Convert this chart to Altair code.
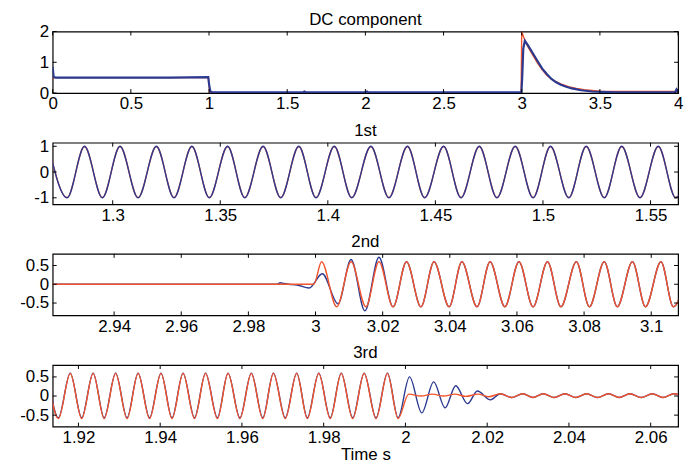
import altair as alt
import pandas as pd

# ---------------- data ----------------
# Panel 1: DC component
DC_RED_T = [0.0, 0.004, 0.996, 1.0, 1.004, 2.996, 3.0, 3.012, 3.035, 3.06, 3.08, 3.1, 3.13, 3.16, 3.2, 3.25, 3.3, 3.35, 3.4, 3.5, 3.6, 4.0]
DC_RED_V = [0.45, 0.5, 0.5, 0.25, 0.0, 0.0, 2.0, 1.82, 1.55, 1.32, 1.15, 0.98, 0.76, 0.58, 0.42, 0.30, 0.21, 0.15, 0.11, 0.06, 0.05, 0.05]
DC_BLUE_T = [0.0, 0.006, 0.02, 0.25, 0.5, 0.75, 0.995, 1.0, 1.008, 1.02, 1.6, 1.61, 1.62, 2.0, 2.01, 2.02, 2.998, 3.003, 3.01, 3.02, 3.04, 3.07, 3.1, 3.13, 3.16, 3.19, 3.22, 3.25, 3.28, 3.32, 3.38, 3.45, 3.6, 3.98, 3.99, 4.0]
DC_BLUE_V = [0.85, 0.52, 0.5, 0.5, 0.5, 0.5, 0.52, 0.3, 0.05, 0.03, 0.02, 0.05, 0.02, 0.02, 0.05, 0.02, 0.02, 0.5, 1.45, 1.70, 1.55, 1.30, 1.05, 0.80, 0.62, 0.46, 0.35, 0.27, 0.21, 0.15, 0.09, 0.05, 0.02, 0.02, 0.12, 0.05]

# Panel 2: 1st harmonic (times of peaks / troughs, amplitudes)
H1_PEAK_T = [1.2702, 1.2869, 1.3034, 1.3203, 1.3368, 1.3534, 1.3699, 1.3865, 1.4030, 1.4200, 1.4370, 1.4538, 1.4704, 1.4871, 1.5035, 1.5201, 1.5366, 1.5536, 1.5702]
H1_TROUGH_T = [1.2788, 1.2952, 1.3118, 1.3285, 1.3449, 1.3614, 1.3781, 1.3945, 1.4111, 1.4284, 1.4450, 1.4619, 1.4786, 1.4954, 1.5120, 1.5285, 1.5451, 1.5617]
H1_BLUE_AMP = [1.0, -1.0]
H1_RED_AMP = [0.99, -0.99]

# Panel 3: 2nd harmonic
H2_RED_FLAT_T = [2.9200, 2.9995]
H2_RED_FLAT_V = [0.0, 0.0]
H2_PEAK_T = [3.0018, 3.0106, 3.0189, 3.0271, 3.0353, 3.0436, 3.0520, 3.0606, 3.0691, 3.0777, 3.0860, 3.0944, 3.1029, 3.1112]
H2_TROUGH_T = [3.0063, 3.0150, 3.0231, 3.0314, 3.0398, 3.0481, 3.0564, 3.0648, 3.0731, 3.0816, 3.0899, 3.0983, 3.1066]
H2_RED_AMP = [0.60, -0.60]
H2_BLUE_START_T = [2.9200, 2.9885, 2.9895, 2.9905, 2.9920, 2.9945, 2.9981, 3.0020, 3.0067, 3.0106, 3.0147, 3.0189]
H2_BLUE_START_V = [0.0, 0.0, 0.04, 0.02, 0.0, -0.02, -0.10, 0.28, -0.52, 0.66, -0.71, 0.72]

# Panel 4: 3rd harmonic
H3_PEAK_T = [1.9124, 1.9180, 1.9236, 1.9291, 1.9346, 1.9402, 1.9456, 1.9511, 1.9566, 1.9623, 1.9677, 1.9734, 1.9788, 1.9843, 1.9899, 1.9956]
H3_TROUGH_T = [1.9151, 1.9208, 1.9263, 1.9319, 1.9374, 1.9429, 1.9484, 1.9540, 1.9595, 1.9651, 1.9706, 1.9760, 1.9816, 1.9871, 1.9928, 1.9982]
H3_RED_AMP = [0.59, -0.59]
H3_BLUE_AMP = [0.60, -0.57]
H3_RED_POST_T = [2.0008, 2.0038, 2.0066, 2.0093, 2.0121, 2.0148, 2.0177, 2.0204, 2.0232, 2.0260, 2.0287, 2.0312, 2.0337, 2.0364, 2.0390, 2.0417, 2.0443, 2.0470, 2.0497, 2.0523, 2.0549, 2.0577, 2.0604, 2.0630, 2.0657, 2.0685]
H3_RED_POST_V = [0.05, 0.0, 0.05, 0.0, 0.05, -0.01, 0.05, -0.02, 0.06, -0.04, 0.06, -0.04, 0.06, -0.04, 0.06, -0.04, 0.06, -0.04, 0.06, -0.04, 0.06, -0.04, 0.06, -0.04, 0.06, -0.04]
H3_BLUE_POST_T = [2.0010, 2.0040, 2.0069, 2.0097, 2.0123, 2.0152, 2.0176, 2.0208]
H3_BLUE_POST_V = [0.50, -0.44, 0.37, -0.31, 0.27, -0.20, 0.13, -0.10]

# axes
DC_XTICKS = [0, 0.5, 1, 1.5, 2, 2.5, 3, 3.5, 4]
DC_YTICKS = [0, 1, 2]
H1_XTICKS = [1.3, 1.35, 1.4, 1.45, 1.5, 1.55]
H1_YTICKS = [-1, 0, 1]
H2_XTICKS = [2.94, 2.96, 2.98, 3, 3.02, 3.04, 3.06, 3.08, 3.1]
H2_YTICKS = [-0.5, 0, 0.5]
H3_XTICKS = [1.92, 1.94, 1.96, 1.98, 2, 2.02, 2.04, 2.06]
H3_YTICKS = [-0.5, 0, 0.5]

TITLES = ["DC component", "1st", "2nd", "3rd"]
X_TITLE = "Time s"

# ---------------- helpers ----------------
RED = "#F2542D"
BLUE = "#2B3990"
FONT = "Liberation Sans"
FS = 17
W, H = 630, 62


def df_of(ts, vs):
    return pd.DataFrame({"t": ts, "v": vs})


def extrema(peak_t, trough_t, amp, lo=None, hi=None):
    pts = [(t, amp[0]) for t in peak_t] + [(t, amp[1]) for t in trough_t]
    pts = [p for p in pts if (lo is None or p[0] >= lo) and (hi is None or p[0] <= hi)]
    pts.sort()
    return [p[0] for p in pts], [p[1] for p in pts]


def panel(title, series, xdom, ydom, xticks, yticks, interp, xtitle=None):
    xs = alt.Scale(domain=xdom, nice=False, zero=False)
    ys = alt.Scale(domain=ydom, nice=False, zero=False)
    xaxis = alt.Axis(values=xticks, labelExpr="'' + datum.value", ticks=False, domain=False,
                     grid=False, labelPadding=3, labelFlush=False, labelOverlap=False, title=xtitle)
    yaxis = alt.Axis(values=yticks, labelExpr="'' + datum.value", ticks=False, domain=False,
                     grid=False, labelPadding=4, labelOverlap=False, minExtent=39, maxExtent=39, title=None)
    X = alt.X("t:Q", scale=xs, axis=xaxis)
    Y = alt.Y("v:Q", scale=ys, axis=yaxis)
    layers = []
    for df, color, sw in series:
        layers.append(alt.Chart(df).mark_line(color=color, strokeWidth=sw, interpolate=interp, clip=True)
                      .encode(x=X, y=Y))
    xt = pd.DataFrame({"t": xticks})
    yt = pd.DataFrame({"v": yticks})
    tk = dict(color="black", strokeWidth=1)
    layers.append(alt.Chart(xt).mark_rule(**tk).encode(x=X, y=alt.value(H), y2=alt.value(H - 4)))
    layers.append(alt.Chart(xt).mark_rule(**tk).encode(x=X, y=alt.value(0), y2=alt.value(4)))
    layers.append(alt.Chart(yt).mark_rule(**tk).encode(y=Y, x=alt.value(0), x2=alt.value(4)))
    layers.append(alt.Chart(yt).mark_rule(**tk).encode(y=Y, x=alt.value(W - 4), x2=alt.value(W)))
    # panel title drawn as a text mark just above the plot frame
    tt = pd.DataFrame({"title": [title]})
    layers.append(alt.Chart(tt).mark_text(font=FONT, fontSize=FS, color="black", align="center",
                                          baseline="middle")
                  .encode(text="title:N", x=alt.value(W / 2), y=alt.value(-12)))
    return alt.layer(*layers).properties(width=W, height=H)


# ---------------- panels ----------------
p1 = panel(TITLES[0],
           [(df_of(DC_RED_T, DC_RED_V), RED, 1.4), (df_of(DC_BLUE_T, DC_BLUE_V), BLUE, 2.2)],
           [0, 4], [0, 2], DC_XTICKS, DC_YTICKS, "linear")

h1b = extrema(H1_PEAK_T, H1_TROUGH_T, H1_BLUE_AMP)
h1r = extrema(H1_PEAK_T, H1_TROUGH_T, H1_RED_AMP)
p2 = panel(TITLES[1],
           [(df_of(*h1r), RED, 1.4), (df_of(*h1b), BLUE, 1.4)],
           [1.2721, 1.5628], [-1.25, 1.14], H1_XTICKS, H1_YTICKS, "monotone")

h2r_t, h2r_v = extrema(H2_PEAK_T, H2_TROUGH_T, H2_RED_AMP)
h2b_t, h2b_v = extrema(H2_PEAK_T, H2_TROUGH_T, H2_RED_AMP, lo=3.0225)
p3 = panel(TITLES[2],
           [(df_of(H2_BLUE_START_T + h2b_t, H2_BLUE_START_V + h2b_v), BLUE, 1.4),
            (df_of(H2_RED_FLAT_T + h2r_t, H2_RED_FLAT_V + h2r_v), RED, 1.4)],
           [2.9217, 3.108], [-0.83, 0.81], H2_XTICKS, H2_YTICKS, "monotone")

h3r_t, h3r_v = extrema(H3_PEAK_T, H3_TROUGH_T, H3_RED_AMP)
h3b_t, h3b_v = extrema(H3_PEAK_T, H3_TROUGH_T, H3_BLUE_AMP)
p4 = panel(TITLES[3],
           [(df_of(h3b_t + H3_BLUE_POST_T + H3_RED_POST_T[8:], h3b_v + H3_BLUE_POST_V + H3_RED_POST_V[8:]), BLUE, 1.4),
            (df_of(h3r_t + H3_RED_POST_T, h3r_v + H3_RED_POST_V), RED, 1.4)],
           [1.9137, 2.0667], [-0.80, 0.81], H3_XTICKS, H3_YTICKS, "monotone", xtitle=X_TITLE)

chart = (alt.vconcat(p1, p2, p3, p4, spacing=8)
         .properties(padding={"left": 5, "top": 0, "right": 5, "bottom": 0})
         .configure_view(stroke="black", strokeWidth=1.2)
         .configure_axis(labelFont=FONT, labelFontSize=FS, labelColor="black",
                         titleFont=FONT, titleFontSize=FS, titleFontWeight="normal",
                         titleColor="black", titlePadding=1))

chart.save("out.html", embed_options={"renderer": "svg", "actions": False})
